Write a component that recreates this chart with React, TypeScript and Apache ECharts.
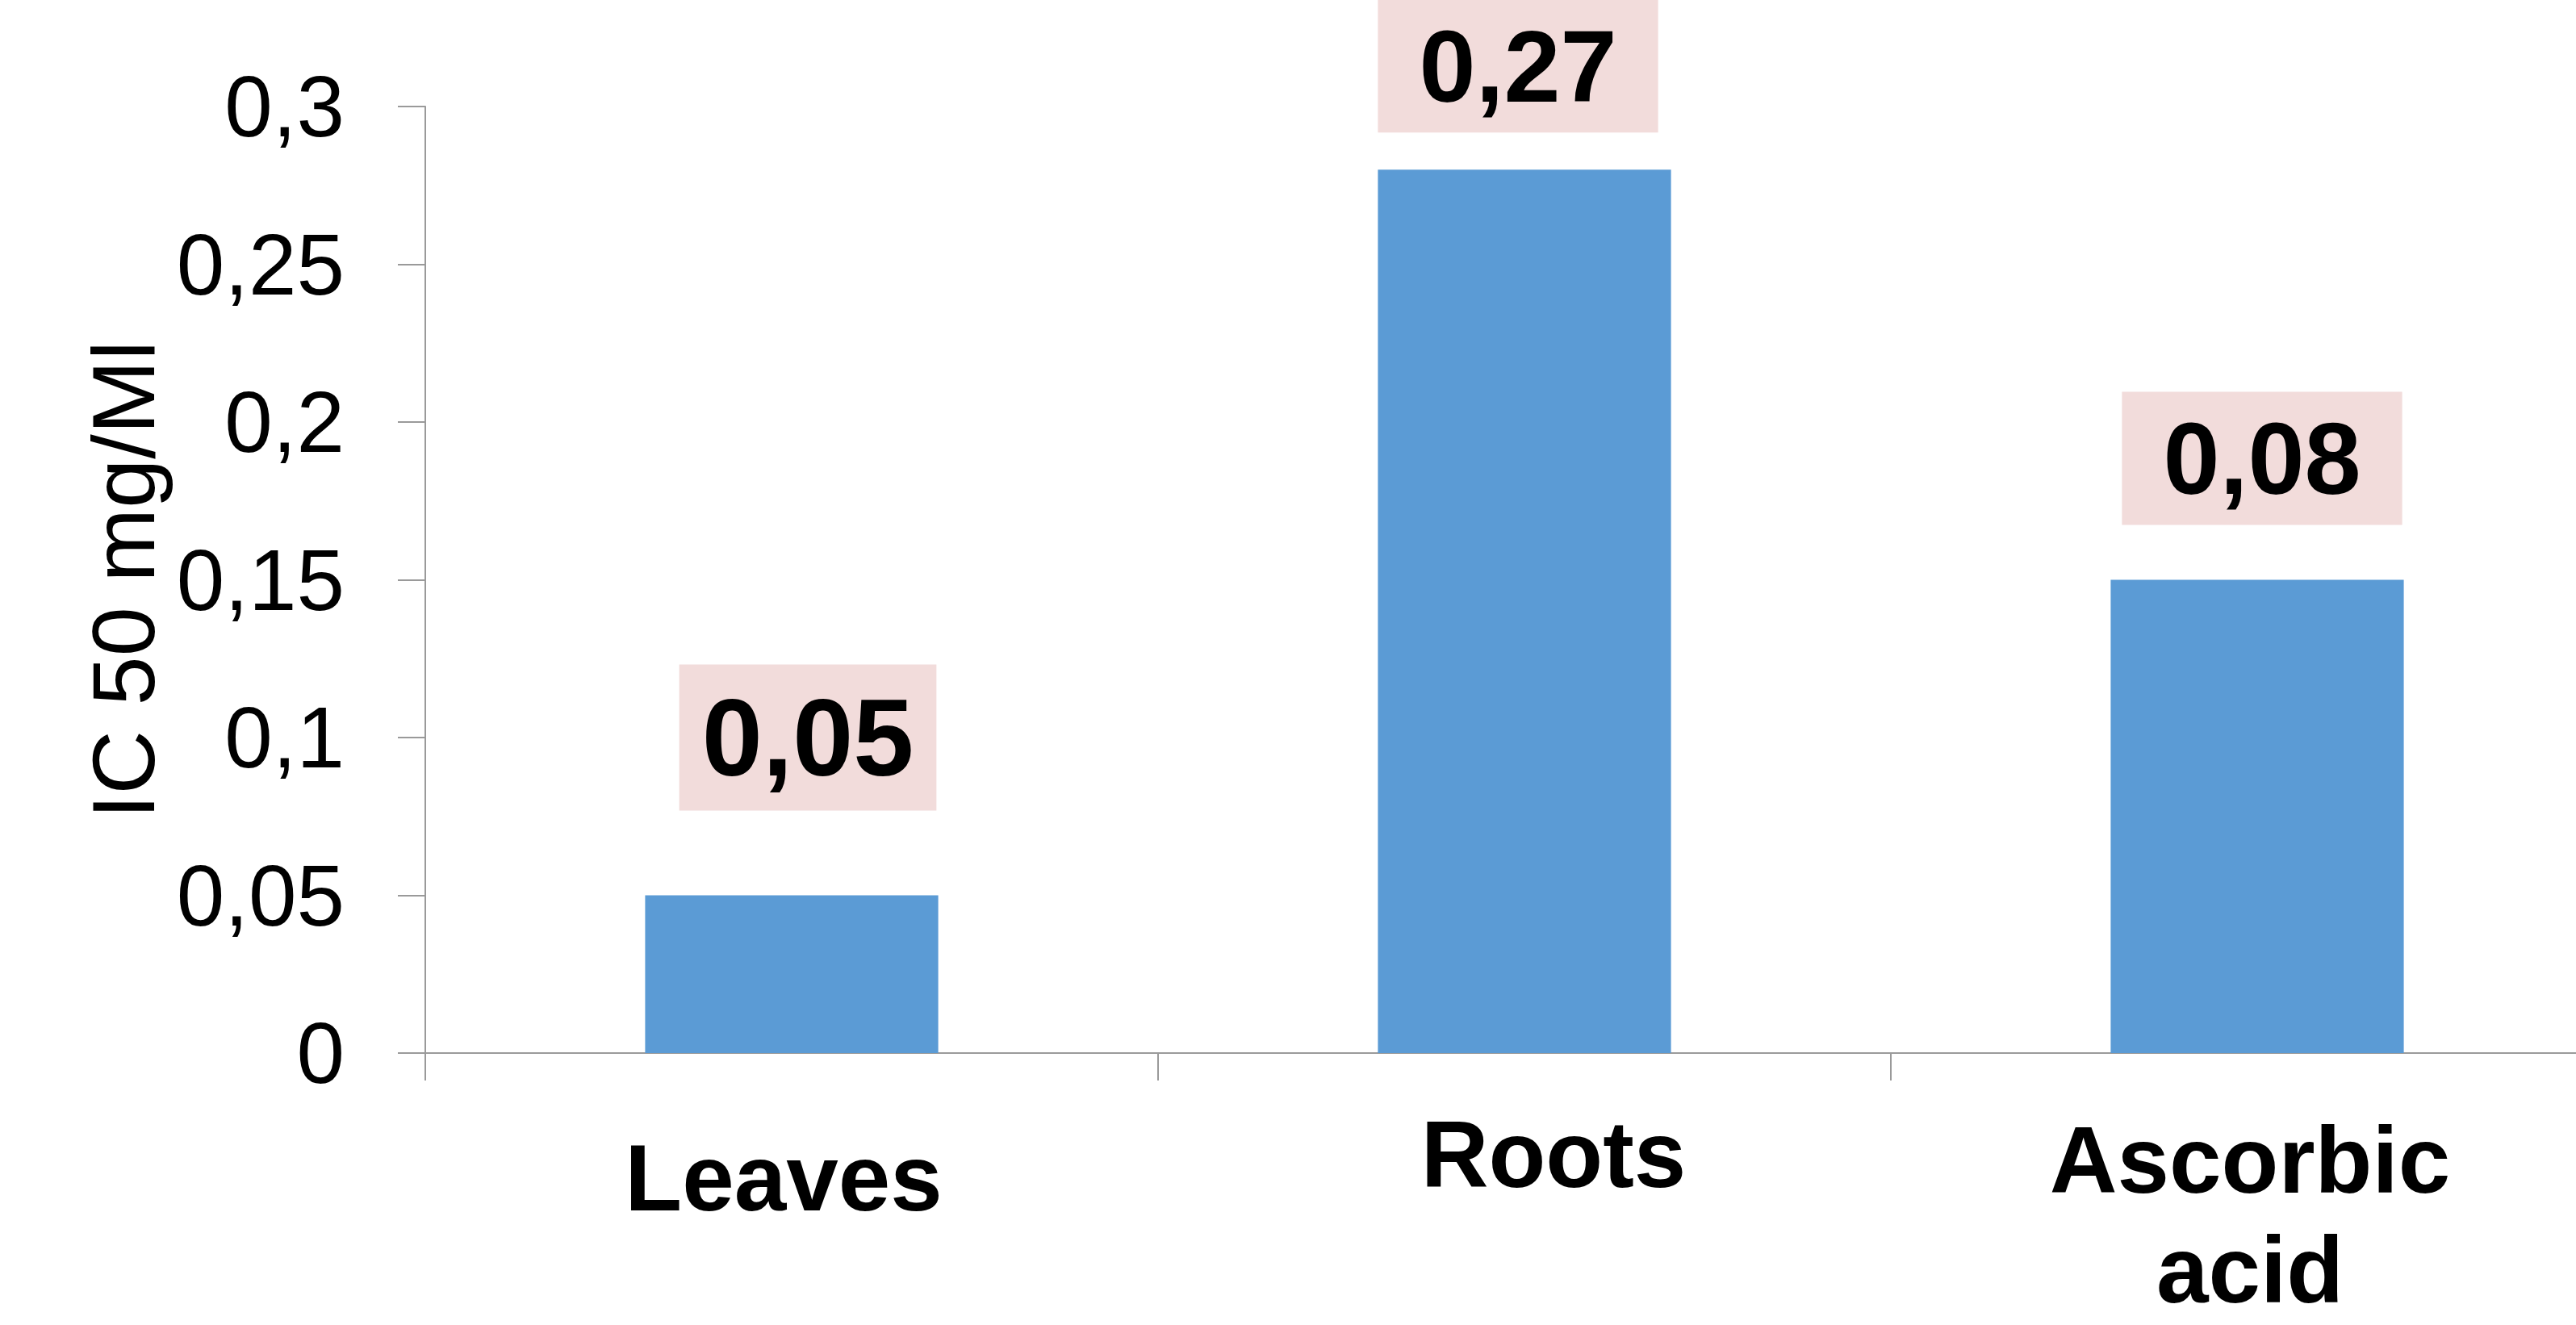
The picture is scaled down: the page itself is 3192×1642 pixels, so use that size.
import React, { useEffect, useRef } from "react";
import * as echarts from "echarts";

const categories = ["Leaves", "Roots", "Ascorbic\nacid"];
const barValues = [0.05, 0.28, 0.15];
const barLabels = ["0,05", "0,27", "0,08"];
const yTicks = [0, 0.05, 0.1, 0.15, 0.2, 0.25, 0.3];
const yTickLabels = ["0", "0,05", "0,1", "0,15", "0,2", "0,25", "0,3"];
const yAxisTitle = "IC 50 mg/Ml";

// layout of the (manually placed) value labels and category labels
const valueLabelLayout = [
  { fontSize: 135, padding: [23, 28, 23, 28], distance: 105, offset: [20, 0] },
  { fontSize: 126, padding: [20, 51, 19, 51], distance: 46, offset: [-8, 0] },
  { fontSize: 126, padding: [20, 51, 19, 51], distance: 68, offset: [6, 0] },
];
const catLabelPadding = [
  [29, 20, 0, 0],
  [0, 0, 0, 72],
  [7, 18, 0, 0],
];

export default function App() {
  const ref = useRef<HTMLDivElement>(null);
  useEffect(() => {
    if (!ref.current) return;
    const chart = echarts.init(ref.current, undefined, { renderer: "svg" });
    const axisColor = "#9a9a9a";
    chart.setOption({
      animation: false,
      backgroundColor: "#ffffff",
      grid: { left: 527, top: 132, width: 2724, height: 1197, containLabel: false },
      xAxis: {
        type: "category",
        data: categories.map((c, i) => ({
          value: c,
          textStyle: { padding: catLabelPadding[i] },
        })),
        axisLine: { show: true, lineStyle: { color: axisColor, width: 2 } },
        axisTick: { show: true, length: 34, alignWithLabel: false, lineStyle: { color: axisColor, width: 2 } },
        axisLabel: {
          interval: 0,
          margin: 58,
          color: "#000000",
          fontFamily: "Liberation Sans",
          fontWeight: "bold",
          fontSize: 116,
          lineHeight: 136,
        },
        splitLine: { show: false },
      },
      yAxis: {
        type: "value",
        min: 0,
        max: 0.3,
        interval: 0.05,
        name: yAxisTitle,
        nameLocation: "middle",
        nameGap: 318,
        nameRotate: 90,
        nameTextStyle: { fontFamily: "Liberation Sans", fontSize: 110, color: "#000000" },
        axisLine: { show: true, lineStyle: { color: axisColor, width: 2 } },
        axisTick: { show: true, length: 34, lineStyle: { color: axisColor, width: 2 } },
        axisLabel: {
          margin: 100,
          color: "#000000",
          fontFamily: "Liberation Sans",
          fontSize: 107,
          formatter: (v: number) => {
            const i = yTicks.findIndex((t) => Math.abs(t - v) < 1e-9);
            return i >= 0 ? yTickLabels[i] : "";
          },
        },
        splitLine: { show: false },
      },
      series: [
        {
          type: "bar",
          barWidth: "40%",
          itemStyle: { color: "#5b9bd5" },
          data: barValues.map((v, i) => ({
            value: v,
            label: {
              show: true,
              position: "top",
              distance: valueLabelLayout[i].distance,
              offset: valueLabelLayout[i].offset,
              formatter: () => barLabels[i],
              backgroundColor: "#f2dcdb",
              padding: valueLabelLayout[i].padding,
              color: "#000000",
              fontFamily: "Liberation Sans",
              fontWeight: "bold",
              fontSize: valueLabelLayout[i].fontSize,
              lineHeight: valueLabelLayout[i].fontSize,
            },
          })),
        },
      ],
    });
    return () => chart.dispose();
  }, []);
  return (
    <div
      style={{
        position: "fixed",
        left: 0,
        top: 0,
        width: 3192,
        height: 1642,
        overflow: "hidden",
        background: "#ffffff",
      }}
    >
      <div ref={ref} style={{ width: 3300, height: 1642 }} />
    </div>
  );
}
